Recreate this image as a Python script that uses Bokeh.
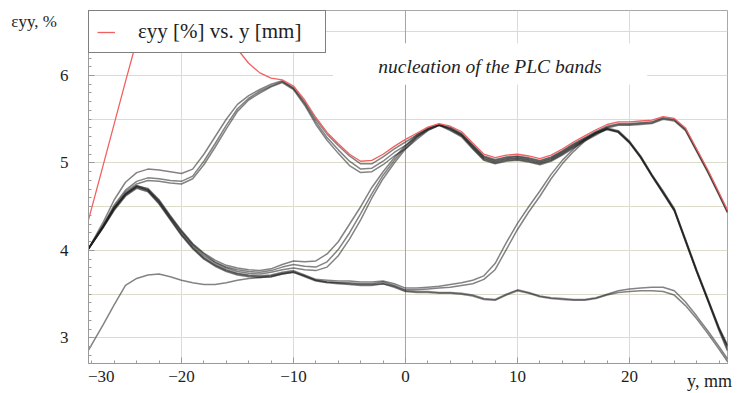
from bokeh.plotting import figure
from bokeh.models import Range1d, FixedTicker, Label, BoxAnnotation, Span, Legend, LegendItem
from bokeh.embed import file_html
from bokeh.resources import INLINE

# position along the gauge length, mm
y_mm = [-28.3] + list(range(-27, 29)) + [28.75]

# axial strain profiles eps_yy (%), successive moments, earliest first
eps_01 = [2.86, 3.15, 3.38, 3.60, 3.68, 3.72, 3.73, 3.70, 3.66, 3.63,
          3.61, 3.61, 3.63, 3.66, 3.68, 3.69, 3.70, 3.73, 3.75, 3.71,
          3.66, 3.64, 3.63, 3.62, 3.61, 3.61, 3.62, 3.58, 3.53, 3.52,
          3.52, 3.51, 3.51, 3.50, 3.48, 3.44, 3.43, 3.49, 3.54, 3.51,
          3.47, 3.45, 3.44, 3.43, 3.43, 3.45, 3.49, 3.52, 3.53, 3.54,
          3.54, 3.53, 3.49, 3.37, 3.22, 3.05, 2.87, 2.73]
eps_02 = [4.02, 4.26, 4.46, 4.62, 4.71, 4.67, 4.53, 4.35, 4.17, 4.02,
          3.90, 3.82, 3.76, 3.72, 3.70, 3.69, 3.70, 3.73, 3.75, 3.70,
          3.65, 3.63, 3.62, 3.61, 3.60, 3.60, 3.62, 3.59, 3.54, 3.53,
          3.53, 3.52, 3.52, 3.51, 3.49, 3.45, 3.44, 3.50, 3.55, 3.52,
          3.48, 3.46, 3.45, 3.44, 3.44, 3.46, 3.50, 3.54, 3.56, 3.57,
          3.58, 3.58, 3.54, 3.41, 3.25, 3.08, 2.90, 2.76]
eps_03 = [4.02, 4.27, 4.48, 4.64, 4.73, 4.69, 4.55, 4.37, 4.19, 4.04,
          3.92, 3.84, 3.78, 3.74, 3.72, 3.71, 3.72, 3.75, 3.77, 3.72,
          3.67, 3.66, 3.65, 3.65, 3.64, 3.64, 3.65, 3.62, 3.57, 3.57,
          3.58, 3.59, 3.61, 3.63, 3.66, 3.71, 3.85, 4.09, 4.31, 4.50,
          4.68, 4.87, 5.03, 5.16, 5.27, 5.35, 5.39, 5.36, 5.24, 5.07,
          4.86, 4.66, 4.46, 4.11, 3.76, 3.43, 3.10, 2.87]
eps_04 = [4.02, 4.26, 4.47, 4.63, 4.72, 4.68, 4.54, 4.36, 4.18, 4.03,
          3.91, 3.83, 3.77, 3.73, 3.71, 3.70, 3.71, 3.74, 3.76, 3.71,
          3.66, 3.64, 3.63, 3.63, 3.62, 3.62, 3.64, 3.60, 3.55, 3.55,
          3.56, 3.57, 3.58, 3.60, 3.62, 3.67, 3.78, 4.01, 4.24, 4.44,
          4.62, 4.82, 4.99, 5.13, 5.25, 5.34, 5.38, 5.35, 5.23, 5.06,
          4.85, 4.65, 4.45, 4.10, 3.75, 3.42, 3.08, 2.85]
eps_05 = [4.02, 4.27, 4.48, 4.64, 4.73, 4.69, 4.56, 4.38, 4.21, 4.06,
          3.94, 3.86, 3.80, 3.76, 3.74, 3.73, 3.75, 3.78, 3.80, 3.78,
          3.77, 3.81, 3.94, 4.13, 4.35, 4.60, 4.82, 5.00, 5.16, 5.29,
          5.38, 5.43, 5.37, 5.30, 5.16, 5.03, 4.99, 5.02, 5.03, 5.01,
          4.98, 5.02, 5.09, 5.17, 5.25, 5.32, 5.39, 5.35, 5.23, 5.06,
          4.85, 4.66, 4.46, 4.11, 3.76, 3.43, 3.10, 2.90]
eps_06 = [4.02, 4.27, 4.49, 4.65, 4.74, 4.70, 4.57, 4.39, 4.22, 4.07,
          3.96, 3.87, 3.81, 3.78, 3.76, 3.75, 3.77, 3.81, 3.84, 3.82,
          3.81, 3.87, 4.01, 4.20, 4.42, 4.65, 4.86, 5.03, 5.18, 5.30,
          5.39, 5.44, 5.38, 5.31, 5.17, 5.04, 5.00, 5.03, 5.04, 5.02,
          4.99, 5.03, 5.10, 5.18, 5.26, 5.33, 5.39, 5.36, 5.24, 5.07,
          4.86, 4.67, 4.47, 4.12, 3.77, 3.44, 3.11, 2.91]
eps_07 = [4.02, 4.28, 4.49, 4.65, 4.74, 4.71, 4.58, 4.40, 4.23, 4.08,
          3.97, 3.89, 3.83, 3.80, 3.78, 3.77, 3.79, 3.84, 3.88, 3.87,
          3.88, 3.96, 4.10, 4.30, 4.50, 4.72, 4.90, 5.06, 5.20, 5.32,
          5.40, 5.44, 5.39, 5.32, 5.18, 5.05, 5.01, 5.04, 5.05, 5.03,
          5.00, 5.04, 5.11, 5.19, 5.27, 5.34, 5.40, 5.37, 5.25, 5.08,
          4.87, 4.68, 4.48, 4.13, 3.78, 3.45, 3.12, 2.92]
eps_08 = [4.02, 4.28, 4.50, 4.67, 4.76, 4.80, 4.79, 4.77, 4.76, 4.82,
          4.98, 5.18, 5.39, 5.59, 5.72, 5.80, 5.87, 5.92, 5.84, 5.66,
          5.44, 5.26, 5.11, 4.97, 4.89, 4.90, 4.98, 5.08, 5.16, 5.27,
          5.37, 5.43, 5.39, 5.32, 5.19, 5.06, 5.02, 5.05, 5.06, 5.04,
          5.01, 5.05, 5.12, 5.20, 5.27, 5.34, 5.40, 5.43, 5.43, 5.44,
          5.45, 5.50, 5.48, 5.37, 5.13, 4.89, 4.63, 4.43]
eps_09 = [4.02, 4.29, 4.52, 4.69, 4.79, 4.83, 4.82, 4.80, 4.79, 4.85,
          5.02, 5.22, 5.43, 5.62, 5.74, 5.82, 5.88, 5.93, 5.85, 5.68,
          5.47, 5.29, 5.15, 5.02, 4.93, 4.94, 5.02, 5.12, 5.20, 5.30,
          5.38, 5.43, 5.40, 5.33, 5.20, 5.07, 5.03, 5.06, 5.07, 5.05,
          5.02, 5.06, 5.13, 5.21, 5.28, 5.35, 5.41, 5.44, 5.44, 5.45,
          5.46, 5.51, 5.49, 5.38, 5.14, 4.90, 4.64, 4.44]
eps_10 = [4.02, 4.32, 4.58, 4.78, 4.89, 4.93, 4.92, 4.90, 4.88, 4.93,
          5.10, 5.30, 5.50, 5.67, 5.77, 5.84, 5.90, 5.94, 5.86, 5.70,
          5.50, 5.33, 5.20, 5.08, 4.99, 4.99, 5.07, 5.16, 5.24, 5.32,
          5.39, 5.44, 5.41, 5.34, 5.21, 5.08, 5.04, 5.07, 5.08, 5.06,
          5.03, 5.07, 5.14, 5.22, 5.29, 5.36, 5.42, 5.45, 5.45, 5.46,
          5.47, 5.52, 5.50, 5.39, 5.15, 4.91, 4.65, 4.45]
# current profile (highlighted)
eps_now = [4.35, 4.97, 5.45, 5.93, 6.40, 6.82, 7.12, 7.28, 7.30, 7.22,
           7.07, 6.86, 6.60, 6.30, 6.14, 6.03, 5.97, 5.95, 5.88, 5.72,
           5.52, 5.35, 5.22, 5.10, 5.02, 5.03, 5.10, 5.19, 5.27, 5.34,
           5.41, 5.45, 5.42, 5.36, 5.23, 5.10, 5.06, 5.09, 5.10, 5.08,
           5.05, 5.09, 5.16, 5.24, 5.31, 5.38, 5.44, 5.47, 5.47, 5.48,
           5.49, 5.53, 5.51, 5.40, 5.16, 4.92, 4.66, 4.46]

history = [eps_01, eps_02, eps_03, eps_04, eps_05, eps_06,
           eps_07, eps_08, eps_09, eps_10]

Y_START, Y_END = -28.3, 28.75
NBSP = "\u00a0"
# the first label sits at the left end of the axis
x_major = [Y_START, -20, -10, 0, 10, 20]
x_labels = {Y_START: NBSP * 6 + "\u221230", -20: "\u221220", -10: "\u221210",
            0: "0", 10: "10", 20: "20"}
y_major = [3, 4, 5, 6]
y_grid = [3.0, 3.5, 4.0, 4.5, 5.0, 5.5, 6.0, 6.5]

SERIF = "Liberation Serif"
INK = "#1e1e1e"
AXIS_GRAY = "#9a9a9a"
GRID = "#dddccb"

p = figure(width=740, height=393, output_backend="svg", toolbar_location=None,
           x_range=Range1d(Y_START, Y_END), y_range=Range1d(2.708, 6.743),
           min_border_left=88, min_border_right=13, min_border_top=10,
           min_border_bottom=26)
p.background_fill_color = "white"
p.border_fill_color = "white"
p.outline_line_color = "#a8a8a8"
p.outline_line_width = 1

# axes
p.xaxis.ticker = FixedTicker(ticks=x_major, minor_ticks=list(range(-30, 30, 2)))
p.xaxis.major_label_overrides = x_labels
p.yaxis.ticker = FixedTicker(ticks=y_major,
                             minor_ticks=[round(2.7 + 0.1 * i, 1) for i in range(41)])
for ax in (p.xaxis[0], p.yaxis[0]):
    ax.axis_line_color = AXIS_GRAY
    ax.major_tick_line_color = AXIS_GRAY
    ax.minor_tick_line_color = AXIS_GRAY
    ax.major_tick_in = 6
    ax.major_tick_out = 0
    ax.minor_tick_in = 3
    ax.minor_tick_out = 0
    ax.major_label_text_font = SERIF
    ax.major_label_text_font_size = "17px"
    ax.major_label_text_color = INK
    ax.axis_label_text_font = SERIF
    ax.axis_label_text_font_style = "normal"
    ax.axis_label_text_color = INK
p.xaxis.major_label_standoff = 3
p.yaxis.major_label_standoff = 20

# axis titles at the far ends of the axes
xax = p.xaxis[0]
xax.axis_label = "y, mm" + NBSP * 8
xax.axis_label_align = "end"
xax.axis_label_standoff = -18
xax.axis_label_text_font_size = "18px"

yax = p.yaxis[0]
yax.axis_label = "\n\u03b5yy, %"
yax.axis_label_orientation = "horizontal"
yax.axis_label_align = "end"
yax.axis_label_standoff = 0
yax.axis_label_text_font_size = "17px"

# grid
p.xgrid.ticker = FixedTicker(ticks=[-20, -10, 10, 20])
p.ygrid.ticker = FixedTicker(ticks=y_grid)
p.xgrid.grid_line_color = GRID
p.ygrid.grid_line_color = GRID
p.add_layout(Span(location=0, dimension="height", line_color="#a4a4a0",
                  line_width=1, level="underlay"))

# strain profiles
for prof in history:
    p.line(y_mm, prof, line_color="#1e1e1e", line_alpha=0.55, line_width=1.5)
r_now = p.line(y_mm, eps_now, line_color="#f06262", line_width=1.3)

# annotation box
p.add_layout(BoxAnnotation(left=-6.47, right=21.58, bottom=5.895, top=6.37,
                           fill_color="white", fill_alpha=1.0, line_alpha=0))
p.add_layout(Label(x=7.54, y=6.10, text="nucleation of the PLC bands",
                   text_align="center", text_baseline="alphabetic",
                   text_font=SERIF, text_font_style="italic",
                   text_font_size="19.5px", text_color=INK))

legend = Legend(items=[LegendItem(label="\u03b5yy [%] vs. y [mm]", renderers=[r_now])],
                location="top_left", margin=0, padding=8, spacing=0,
                glyph_width=18, glyph_height=20, label_standoff=23, label_width=179,
                label_text_font=SERIF, label_text_font_size="21px",
                label_text_color=INK,
                border_line_color="black", border_line_width=1.3,
                background_fill_color="white", background_fill_alpha=1.0)
p.add_layout(legend)

open("out.html", "w").write(file_html(p, INLINE))
